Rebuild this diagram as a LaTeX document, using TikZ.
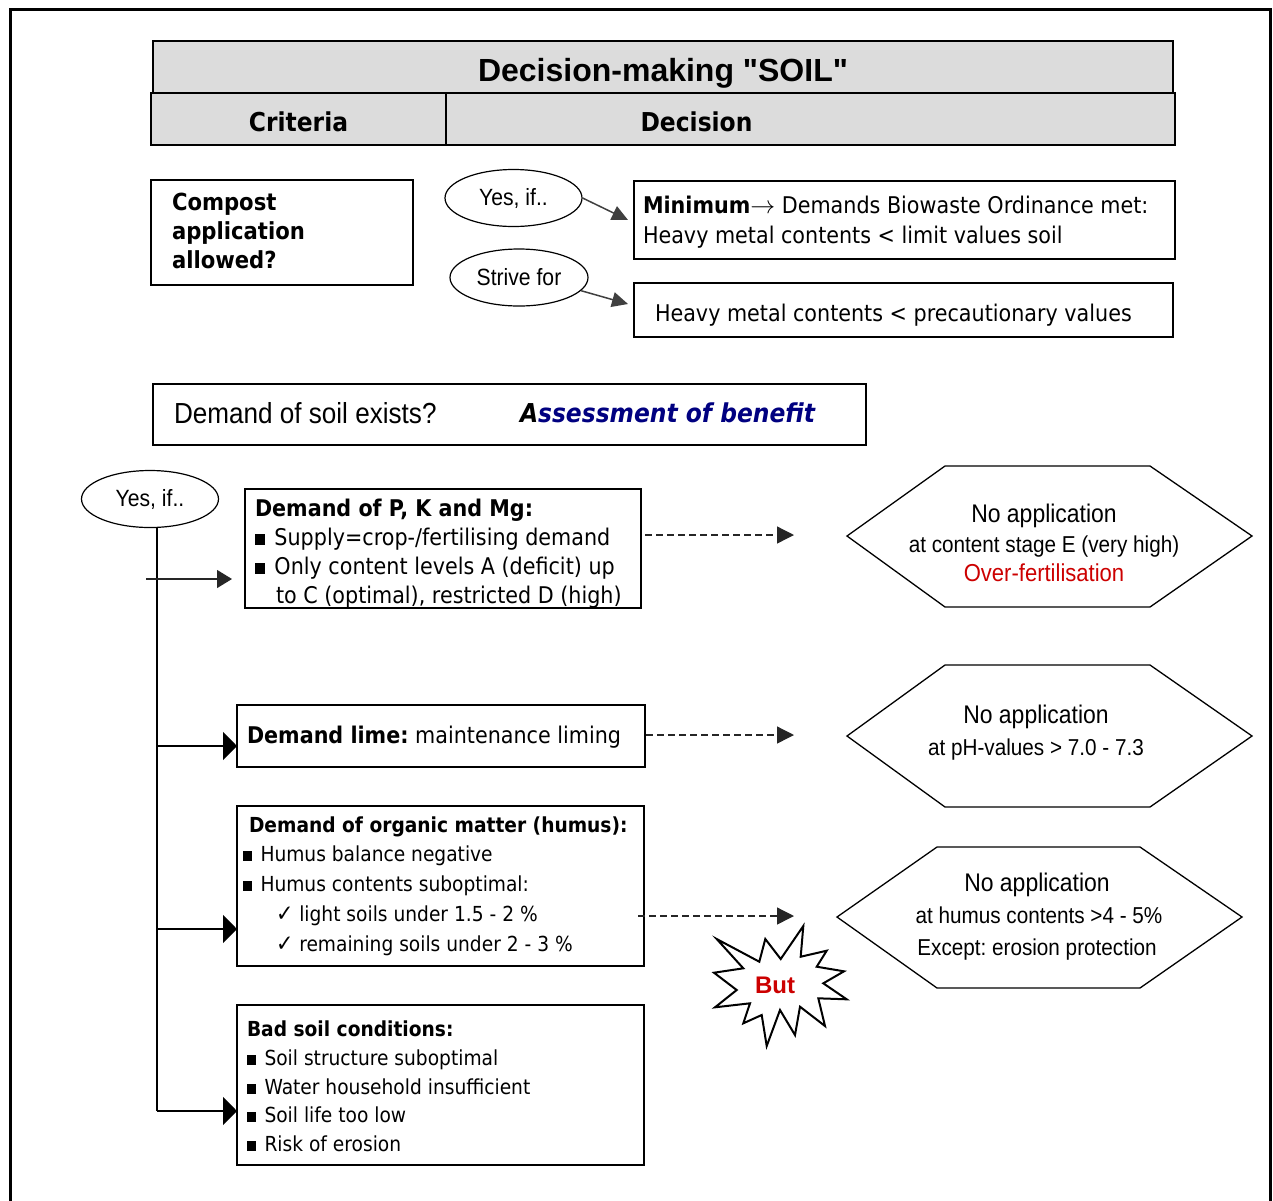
\documentclass[tikz,border=0pt]{standalone}
\usepackage{fontspec}
\setmainfont{DejaVu Sans}[FakeStretch=0.9]
\newfontfamily\arial{Liberation Sans}
\newfontfamily\narrow{Liberation Sans}[FakeStretch=0.9]
\usetikzlibrary{arrows.meta,shapes.geometric}
\definecolor{hdr}{HTML}{DCDCDC}
\definecolor{navyb}{RGB}{0,0,128}
\definecolor{redt}{HTML}{CC0000}
\definecolor{dgray}{HTML}{404040}
\newcommand\fs[1]{\fontsize{#1}{#1}\selectfont}
\newcommand\bul{\rule[0.02em]{0.44em}{0.44em}\hspace{0.12em}}
\frenchspacing
\begin{document}
\begin{tikzpicture}[x=1pt,y=-1pt,
  box/.style={draw, line width=1.8pt, anchor=north west, inner sep=0pt, outer sep=0pt},
  hbox/.style={box, fill=hdr},
  txt/.style={anchor=base west, inner sep=0pt, outer sep=0pt},
  ctxt/.style={anchor=base, inner sep=0pt, outer sep=0pt},
  ell/.style={draw, ellipse, line width=1.2pt, inner sep=0pt, minimum width=137pt, minimum height=57pt, font=\narrow\fs{23.5}},
  hexa/.style={draw, line width=1.3pt},
  garr/.style={draw=dgray, line width=1.5pt, -{Triangle[length=16pt,width=15pt]}},
  parr/.style={draw=black!85, line width=1.3pt, -{Triangle[length=15pt,width=18pt]}},
  barr/.style={draw, line width=1.5pt, -{Triangle[length=14pt,width=28pt]}},
  darr/.style={draw=black!85, line width=1.3pt, dash pattern=on 7pt off 4pt, -{Triangle[length=17pt,width=17pt]}},
  body/.style={txt, font=\fs{23}},
  small/.style={txt, font=\fs{20.7}},
  hx/.style={ctxt, font=\narrow\fs{23}},
  hxb/.style={ctxt, font=\narrow\fs{25.5}}
]
\useasboundingbox (0,0) rectangle (1273,1200);
% outer frame
\draw[line width=2.5pt] (10.5,1202) -- (10.5,9.5) -- (1270.5,9.5) -- (1270.5,1202);

% header
\node[hbox, minimum width=1020pt, minimum height=52pt] (title) at (153,41) {};
\node[ctxt, font=\arial\bfseries\fs{32}] (titletxt) at (663,81) {Decision-making "SOIL"};
\node[hbox, minimum width=295pt, minimum height=52pt] (crit) at (151,93) {};
\node[hbox, minimum width=729pt, minimum height=52pt] (deci) at (446,93) {};
\node[ctxt, font=\bfseries\fs{26}] (crittxt) at (298.5,131) {Criteria};
\node[ctxt, font=\bfseries\fs{26}] (decitxt) at (696.5,131) {Decision};

% compost
\node[box, minimum width=262pt, minimum height=105pt] (comp) at (151,180) {};
\node[txt, font=\bfseries\fs{23.5}] (c1) at (172,210) {Compost};
\node[txt, font=\bfseries\fs{23.5}] (c2) at (172,239) {application};
\node[txt, font=\bfseries\fs{23.5}] (c3) at (172,268) {allowed?};

% ellipses top
\node[ell] (e1) at (513.5,198) {Yes, if..};
\node[ell, minimum width=138pt] (e2) at (519,277.5) {Strive for};

% minimum boxes
\node[box, minimum width=541pt, minimum height=78pt] (mini) at (634,181) {};
\node[body] (m1) at (643,213) {\textbf{Minimum}$\rightarrow$ Demands Biowaste Ordinance met:};
\node[body] (m2) at (643,243) {Heavy metal contents < limit values soil};
\node[box, minimum width=539pt, minimum height=54pt] (prec) at (634,283) {};
\node[body] (p1) at (655,321) {Heavy metal contents < precautionary values};

\draw[garr] (e1.east) -- ([xshift=-6pt]mini.west);
\draw[garr] (e2.-12) -- ([shift={(-6pt,6pt)}]prec.west);

% demand of soil
\node[box, minimum width=713pt, minimum height=61pt] (dsoil) at (153,384) {};
\node[txt, font=\narrow\fs{29}] (ds1) at (174,423) {Demand of soil exists?};
\node[txt, font=\bfseries\itshape\fs{26}] (ds2) at (520,422) {A\textcolor{navyb}{ssessment of benefit}};

% yes if left
\node[ell] (e3) at (150,499) {Yes, if..};
\coordinate (vbot) at (157,1111);
\draw[line width=1.6pt] (e3.south -| vbot) -- (vbot);

% PK box
\node[box, minimum width=396pt, minimum height=119pt] (pk) at (245,489) {};
\node[txt, font=\bfseries\fs{23}] (pk0) at (255,516) {Demand of P, K and Mg:};
\node[body] (pk1) at (255,545) {\bul\ Supply=crop-/fertilising demand};
\node[body] (pk2) at (255,574) {\bul\ Only content levels A (deficit) up};
\node[body] (pk3) at (276,603) {to C (optimal), restricted D (high)};
\coordinate (pkin) at (146,579);
\draw[parr] (pkin) -- ([xshift=-13pt]pkin -| pk.west);

% lime box
\node[box, minimum width=408pt, minimum height=62pt] (lime) at (237,705) {};
\node[body] (l1) at (247,743) {\textbf{Demand lime:} maintenance liming};
\coordinate (j1) at (157,746);
\draw[barr] (j1) -- (j1 -| lime.west);

% organic box
\node[box, minimum width=407pt, minimum height=160pt] (org) at (237,806) {};
\node[txt, font=\bfseries\fs{20.7}] (o0) at (249,832) {Demand of organic matter (humus):};
\node[small] (o1) at (243,861) {\bul\ Humus balance negative};
\node[small] (o2) at (243,891) {\bul\ Humus contents suboptimal:};
\node[small] (o3) at (276,921) {\fs{23}✓\fs{20.7} light soils under 1.5 - 2 \%};
\node[small] (o4) at (276,951) {\fs{23}✓\fs{20.7} remaining soils under 2 - 3 \%};
\coordinate (j2) at (157,929);
\draw[barr] (j2) -- (j2 -| org.west);

% bad soil box
\node[box, minimum width=407pt, minimum height=160pt] (bad) at (237,1005) {};
\node[txt, font=\bfseries\fs{20.7}] (b0) at (247,1036) {Bad soil conditions:};
\node[small] (b1) at (247,1065) {\bul\ Soil structure suboptimal};
\node[small] (b2) at (247,1094) {\bul\ Water household insufficient};
\node[small] (b3) at (247,1122) {\bul\ Soil life too low};
\node[small] (b4) at (247,1151) {\bul\ Risk of erosion};
\coordinate (j3) at (157,1111);
\draw[barr] (j3) -- (j3 -| bad.west);

% hexagons
\draw[hexa] (847,536) -- (945,466) -- (1150,466) -- (1252,536) -- (1150,607) -- (945,607) -- cycle;
\node[hxb] (h1a) at (1044,522) {No application};
\node[hx] (h1b) at (1044,552) {at content stage E (very high)};
\node[hx, font=\narrow\fs{24.5}, text=redt] (h1c) at (1044,581) {Over-fertilisation};

\draw[hexa] (847,736) -- (945,665) -- (1150,665) -- (1252,736) -- (1150,807) -- (945,807) -- cycle;
\node[hxb] (h2a) at (1036,723) {No application};
\node[hx] (h2b) at (1036,755) {at pH-values > 7.0 - 7.3};

\draw[hexa] (837,917) -- (937,847) -- (1140,847) -- (1242,917) -- (1140,988) -- (937,988) -- cycle;
\node[hxb] (h3a) at (1037,891) {No application};
\node[hx] (h3b) at (1039,923) {at humus contents >4 - 5\%};
\node[hx] (h3c) at (1037,955) {Except: erosion protection};

% dashed arrows
\coordinate (d1) at (794,535);
\coordinate (d2) at (794,735);
\coordinate (d3) at (794,916);
\draw[darr] ([xshift=4pt]pk.east |- d1) -- (d1);
\draw[darr] ([xshift=1pt]lime.east |- d2) -- (d2);
\draw[darr] ([xshift=-6pt]org.east |- d3) -- (d3);

% star
\draw[line width=2pt, fill=white] (716.7,939) -- (759.3,961.7) -- (765.3,939) -- (780.7,959) -- (803.3,926) -- (800.7,956.7) -- (826.7,950.7) -- (816.7,966.7) -- (844,971.3) -- (823.3,983.3) -- (846.7,999.3) -- (818.3,998.3) -- (825,1026) -- (800,1006.7) -- (795,1035) -- (780,1010) -- (766.7,1046) -- (761.7,1015) -- (743.3,1023.3) -- (750,1003.3) -- (715,1007.3) -- (736.7,990) -- (714,972.7) -- (743.3,968.3) -- cycle;
\node[ctxt, font=\arial\bfseries\fs{24}, text=redt] (but) at (775,993) {But};
\end{tikzpicture}
\end{document}
